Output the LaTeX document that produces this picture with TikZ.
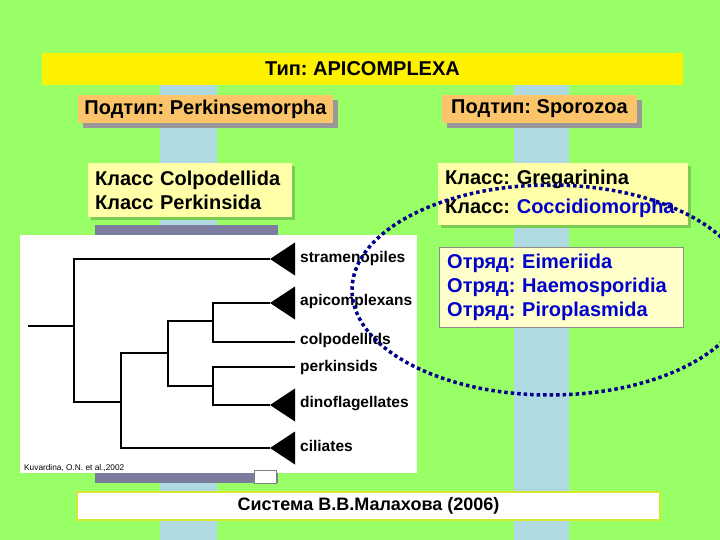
\documentclass[tikz,border=0pt]{standalone}
\usepackage{fontspec}
\setmainfont{Liberation Sans}
\frenchspacing
\usetikzlibrary{calc, shadows}
\definecolor{slidegreen}{RGB}{153,255,102}
\definecolor{stripeblue}{RGB}{176,218,226}
\definecolor{subfill}{RGB}{252,196,106}
\definecolor{classfill}{RGB}{255,255,170}
\definecolor{ordfill}{RGB}{255,255,204}
\definecolor{ordblue}{RGB}{0,0,204}
\definecolor{ringblue}{RGB}{0,0,140}
\definecolor{panelbar}{RGB}{124,124,158}
\tikzset{
  titlebar/.style = {fill=yellow, minimum width=641pt, minimum height=32pt,
                     font=\bfseries\fontsize{20}{24}\selectfont},
  subbox/.style   = {fill=subfill, minimum height=28pt, inner sep=0pt,
                     font=\bfseries\fontsize{20}{24}\selectfont,
                     drop shadow={shadow xshift=5pt, shadow yshift=-5pt,
                                  fill=black!40, opacity=1}},
  % the class and order boxes are placed by their top left corner
  classbox/.style = {fill=classfill, anchor=north west, align=left,
                     inner xsep=7pt, inner ysep=0pt,
                     font=\bfseries\fontsize{20}{24}\selectfont,
                     drop shadow={shadow xshift=3pt, shadow yshift=-3pt,
                                  fill=black!20!slidegreen, opacity=1}},
  ordbox/.style   = {fill=ordfill, draw=black!45, anchor=north west, align=left,
                     inner xsep=8pt, inner ysep=0pt, text=ordblue,
                     font=\bfseries\fontsize{20}{24}\selectfont},
  leaf/.style     = {anchor=west, inner sep=0pt, text height=11pt, text depth=3pt,
                     font=\bfseries\fontsize{15.5}{18}\selectfont},
  branch/.style   = {line width=2pt},
  ring/.style     = {ringblue, line width=3.5pt, dash pattern=on 3.5pt off 3pt},
}
\newcommand{\clade}[1]{\fill (#1) -- ++(25,-16.5) -- ++(0,33) -- cycle;}

\begin{document}
\begin{tikzpicture}[x=1pt, y=-1pt]
\clip (0,0) rectangle (720,540);
\fill[slidegreen] (0,0) rectangle (720,540);
\fill[stripeblue] (160,85) rectangle (217,540);
\fill[stripeblue] (514,85) rectangle (569,540);

\node[titlebar] (tip) at (362.5,69) {Тип: APICOMPLEXA};
\node[subbox, minimum width=255pt] (perk) at (205.5,109) {Подтип: Perkinsemorpha};
\node[subbox, minimum width=195pt] (sporo) at (539.5,109) {Подтип: Sporozoa};

\node[classbox, text width=190pt, minimum height=54pt] (klassL) at (88,163)
  {Класс Colpodellida\\Класс Perkinsida};
\node[classbox, text width=236pt, minimum height=62pt] (klassR) at (438,163)
  {Класс: Gregarinina\\[5pt]Класс: \textcolor{ordblue}{Coccidiomorpha}};
\node[ordbox, text width=228pt, minimum height=80pt] (otryad) at (439,247)
  {Отряд: Eimeriida\\Отряд: Haemosporidia\\Отряд: Piroplasmida};

% tree picture
\fill[panelbar] (95,225) rectangle (278,483);
\fill[white] (20,235) rectangle (417,473);
\draw[black!50, fill=white] (254,470) rectangle (276,483);
\node[font=\fontsize{8.3}{10}\selectfont, anchor=west, inner sep=0pt] (ref) at (24,468)
  {Kuvardina, O.N. et al.,2002};

\coordinate (r0) at (28,326);
\coordinate (n1) at (74,326);
\coordinate (n2) at (121,402);
\coordinate (n3) at (168,353);
\coordinate (n4) at (213,321);
\coordinate (n5) at (213,386);
\coordinate (tStram) at (270,259);
\coordinate (tApi)   at (270,303);
\coordinate (tDino)  at (270,405);
\coordinate (tCil)   at (270,448);

\node[leaf] (lStram) at (300,258) {stramenopiles};
\node[leaf] (lApi)   at (300,301) {apicomplexans};
\node[leaf] (lColp)  at (300,340) {colpodellids};
\node[leaf] (lPerk)  at (300,367) {perkinsids};
\node[leaf] (lDino)  at (300,403) {dinoflagellates};
\node[leaf] (lCil)   at (300,447) {ciliates};

\draw[branch] (r0) -- (n1);
\draw[branch] (tStram) -| (n1) |- (n2);
\draw[branch] (tCil) -| (n2) |- (n3);
\draw[branch] (n4) -| (n3) |- (n5);
\draw[branch] (tApi) -| (n4) |- ($(lColp.west)+(-5,2)$);
\draw[branch] ($(lPerk.west)+(-5,0)$) -| (n5) |- (tDino);
\clade{tStram}
\clade{tApi}
\clade{tDino}
\clade{tCil}

\node[fill=white, draw=yellow!60!slidegreen, line width=1.5pt, minimum width=583pt,
      minimum height=28pt, font=\bfseries\fontsize{18}{22}\selectfont] (sistema)
  at (368.5,506) {Система В.В.Малахова (2006)};

\draw[ring] (550,290) ellipse [x radius=198, y radius=105];
\end{tikzpicture}
\end{document}
